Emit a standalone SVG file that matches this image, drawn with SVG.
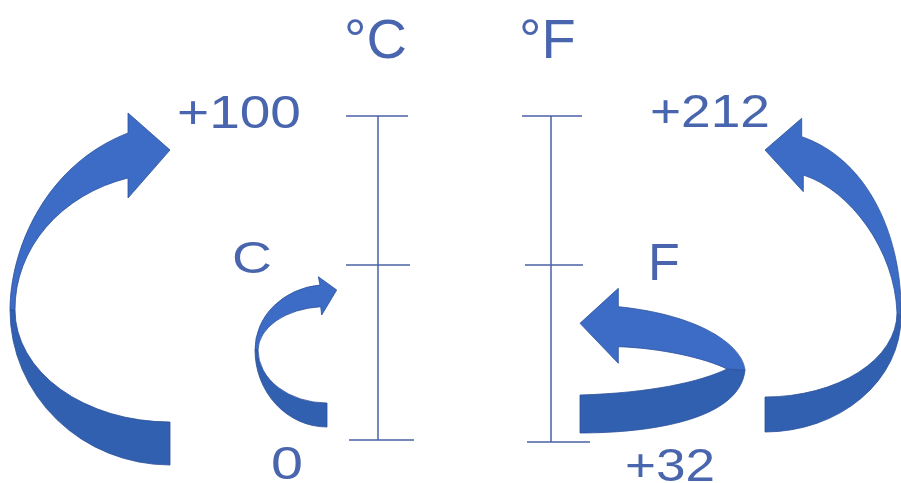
<svg xmlns="http://www.w3.org/2000/svg" width="901" height="483" viewBox="0 0 901 483">
<style>
.t{font-family:"Liberation Sans",Arial,sans-serif;fill:#4865ad}
.sc{stroke:#4b62a6;stroke-width:1.5;fill:none}
.lt{fill:#3c6cc6;stroke:#2c5099;stroke-width:0.8;stroke-linejoin:round}
.dk{fill:#3160b0;stroke:#2c5099;stroke-width:0.8;stroke-linejoin:round}
</style>
<rect width="901" height="483" fill="#ffffff"/>
<g id="scales">
<g id="celsius-scale">
<path class="sc" d="M378,116 V440 M346,116 H408 M346,265 H410 M349,440 H414"/>
</g>
<g id="fahrenheit-scale">
<path class="sc" d="M551,116 V442 M522,116 H582 M525,265 H583 M527,442 H590"/>
</g>
</g>
<g id="labels">
<g id="label-degC"><text class="t" x="344" y="58" font-size="56">°C</text></g>
<g id="label-degF"><text class="t" x="519" y="58" font-size="56">°F</text></g>
<g id="label-100"><text class="t" x="177" y="128" font-size="46" textLength="124" lengthAdjust="spacingAndGlyphs">+100</text></g>
<g id="label-212"><text class="t" x="650" y="127" font-size="46" textLength="120" lengthAdjust="spacingAndGlyphs">+212</text></g>
<g id="label-C"><text class="t" x="232" y="273" font-size="44" textLength="40" lengthAdjust="spacingAndGlyphs">C</text></g>
<g id="label-F"><text class="t" x="648" y="280" font-size="52">F</text></g>
<g id="label-0"><text class="t" x="271" y="479" font-size="46" textLength="32" lengthAdjust="spacingAndGlyphs">0</text></g>
<g id="label-32"><text class="t" x="625" y="481" font-size="46" textLength="90" lengthAdjust="spacingAndGlyphs">+32</text></g>
</g>
<g id="connectors">
<g id="arrow-left-big">
<path class="dk" d="M170,422 A155 112 0 0 1 15,310 L10,310 A160 155 0 0 0 170,465 Z"/>
<path class="lt" d="M15,310 A155 136 0 0 1 128,178 L128,198 L170,150 L128,113 L128,133 C45,165 10,250 10,310 Z"/>
</g>
<g id="arrow-left-small">
<path class="dk" d="M327,403 A69 53 0 0 1 258,350 L255,350 A72 77 0 0 0 327,427 Z"/>
<path class="lt" d="M258,350 A69 44 0 0 1 320.7,306.7 L321.7,315 L336.7,290 L318.3,276.7 L320,285 A72 65 0 0 0 255,350 Z"/>
</g>
<g id="arrow-right-big">
<path class="dk" d="M897,313 A132 84 0 0 1 765,397 L765,432 A136 115 0 0 0 901,317 Z"/>
<path class="lt" d="M897,313 C895,250 850,190 803.3,175 L803.3,191.7 L765,150 L801.7,118.3 L801.7,136.7 C870,160 903,240 901,317 Z"/>
</g>
<g id="arrow-right-small">
<path class="dk" d="M727,369 C700,382 650,393 580,395 L580,433 C650,433 740,420 745,370 Z"/>
<path class="lt" d="M618.3,346.7 C660,348 705,358 727,369 L745,370 C742,345 700,315 618.3,306.7 L618.3,288.3 L580,323.3 L618.3,363.3 Z"/>
</g>
</g>
</svg>
